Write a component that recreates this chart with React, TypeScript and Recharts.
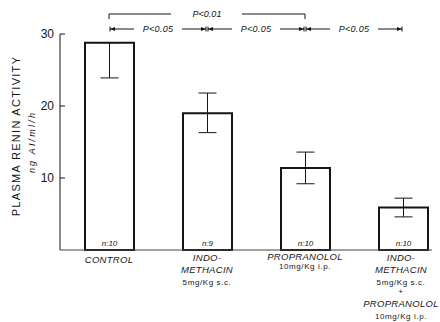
import { BarChart, Bar, XAxis, YAxis, ErrorBar, LabelList } from "recharts";

const categories = ["CONTROL", "INDOMETHACIN", "PROPRANOLOL", "INDOMETHACIN + PROPRANOLOL"];
const renin = [28.8, 19.0, 11.4, 5.9];
const errLow = [4.9, 2.7, 2.2, 1.3];
const errHigh = [0, 2.8, 2.2, 1.3];
const nCounts = [10, 9, 10, 10];
const yTicks = [10, 20, 30];

// x axis label text, line by line
const categoryLines = [
  ["CONTROL"],
  ["INDO-", "METHACIN", "5mg/Kg  s.c."],
  ["PROPRANOLOL", "10mg/Kg  i.p."],
  ["INDO-", "METHACIN", "5mg/Kg  s.c.", "+", "PROPRANOLOL", "10mg/Kg  i.p."],
];

// significance annotations
const sigPairs = [[0, 1], [1, 2], [2, 3]];
const sigLabels = ["P<0.05", "P<0.05", "P<0.05"];
const bracketPair = [0, 2];
const bracketLabel = "P<0.01";

const data = categories.map((name, i) => ({
  name,
  value: renin[i],
  err: [errLow[i], errHigh[i]],
  n: nCounts[i],
}));

const FONT = "'Liberation Sans', Arial, sans-serif";
const INK = "#151515";
const PLOT_LEFT = 60;
const PLOT_BOTTOM = 250;
const BAND = 98;
const lineOffsets = [[9], [7, 19, 32], [6, 16], [7, 19, 32, 41, 53, 66]];
const labelShift = [0, 0, 0, -2];

const center = (i: number) => PLOT_LEFT + BAND * (i + 0.5);

const CategoryTick = (props: any) => {
  const { x, payload } = props;
  const idx = payload?.index ?? categories.indexOf(payload?.value);
  const lines = categoryLines[idx] || [];
  const dys = lineOffsets[idx] || [];
  return (
    <g>
      {lines.map((t, i) => {
        const small = t.includes("mg") || t === "+";
        return (
          <text
            key={i}
            x={x + (labelShift[idx] || 0)}
            y={PLOT_BOTTOM + dys[i]}
            textAnchor="middle"
            dominantBaseline="central"
            fontFamily={FONT}
            fontSize={small ? 8 : 9.5}
            fontStyle={small ? "normal" : "italic"}
            letterSpacing={small ? 0.6 : 0.3}
            fill={INK}
          >
            {t}
          </text>
        );
      })}
    </g>
  );
};

const ValueTick = (props: any) => {
  const { y, payload } = props;
  return (
    <g>
      <line x1={PLOT_LEFT} x2={PLOT_LEFT + 5} y1={y} y2={y} stroke={INK} strokeWidth={1} />
      <text
        x={PLOT_LEFT - 6}
        y={y}
        textAnchor="end"
        dominantBaseline="central"
        fontFamily={FONT}
        fontSize={12}
        fill={INK}
      >
        {payload.value}
      </text>
    </g>
  );
};

const Arrow = ({ x, y, dir }: { x: number; y: number; dir: number }) => (
  <g>
    <line x1={x} x2={x} y1={y - 2.5} y2={y + 2.5} stroke={INK} strokeWidth={1} />
    <polygon points={`${x},${y} ${x + dir * 5},${y - 2} ${x + dir * 5},${y + 2}`} fill={INK} />
  </g>
);

const Annotations = () => {
  const by = 14;
  const bx1 = center(bracketPair[0]);
  const bx2 = center(bracketPair[1]);
  const bmid = (bx1 + bx2) / 2;
  const ry = 29;
  return (
    <svg
      width={440}
      height={322}
      style={{ position: "absolute", left: 0, top: 0, pointerEvents: "none" }}
    >
      {/* baseline */}
      <line x1={PLOT_LEFT} x2={432} y1={PLOT_BOTTOM} y2={PLOT_BOTTOM} stroke="#444" strokeWidth={1} />

      <text
        transform="translate(16,136) rotate(-90)"
        textAnchor="middle"
        dominantBaseline="central"
        fontFamily={FONT}
        fontSize={11}
        letterSpacing={1.3}
        fill={INK}
      >
        PLASMA RENIN ACTIVITY
      </text>
      <text
        transform="translate(32,142) rotate(-90)"
        textAnchor="middle"
        dominantBaseline="central"
        fontFamily={FONT}
        fontSize={9}
        fontStyle="italic"
        letterSpacing={2.2}
        fill={INK}
      >
        ng AI/ml/h
      </text>

      <polyline
        points={`${bx1},${by + 5} ${bx1},${by} ${bmid - 36},${by}`}
        fill="none"
        stroke={INK}
        strokeWidth={1}
      />
      <polyline
        points={`${bmid + 35},${by} ${bx2},${by} ${bx2},${by + 5}`}
        fill="none"
        stroke={INK}
        strokeWidth={1}
      />
      <text
        x={bmid}
        y={by}
        textAnchor="middle"
        dominantBaseline="central"
        fontFamily={FONT}
        fontSize={9}
        fontStyle="italic"
        fill={INK}
      >
        {bracketLabel}
      </text>

      {sigPairs.map(([a, b], i) => {
        const x1 = center(a) + 1;
        const x2 = center(b) - 1;
        const mid = (x1 + x2) / 2;
        return (
          <g key={i}>
            <Arrow x={x1} y={ry} dir={1} />
            <Arrow x={x2} y={ry} dir={-1} />
            <line x1={x1} x2={mid - 24} y1={ry} y2={ry} stroke={INK} strokeWidth={1} />
            <line x1={mid + 24} x2={x2} y1={ry} y2={ry} stroke={INK} strokeWidth={1} />
            <text
              x={mid}
              y={ry}
              textAnchor="middle"
              dominantBaseline="central"
              fontFamily={FONT}
              fontSize={9}
              fontStyle="italic"
              letterSpacing={0.3}
              fill={INK}
            >
              {sigLabels[i]}
            </text>
          </g>
        );
      })}
    </svg>
  );
};

export default function App() {
  return (
    <div
      style={{
        position: "absolute",
        left: 0,
        top: 0,
        width: 440,
        height: 322,
        overflow: "hidden",
        background: "#fff",
      }}
    >
      <BarChart
        width={460}
        height={322}
        data={data}
        margin={{ top: 34, right: 8, left: 0, bottom: 0 }}
        barCategoryGap={0}
      >
        <XAxis
          dataKey="name"
          height={72}
          interval={0}
          tickLine={false}
          axisLine={false}
          tick={<CategoryTick />}
        />
        <YAxis
          width={60}
          domain={[0, 30]}
          ticks={yTicks}
          tickLine={false}
          axisLine={{ stroke: INK, strokeWidth: 1 }}
          tick={<ValueTick />}
        />
        <Bar
          dataKey="value"
          barSize={49}
          fill="#fff"
          stroke={INK}
          strokeWidth={2}
          isAnimationActive={false}
        >
          <ErrorBar dataKey="err" width={9} stroke={INK} strokeWidth={1} />
          <LabelList
            dataKey="n"
            content={(p: any) => (
              <text
                x={p.x + p.width / 2}
                y={PLOT_BOTTOM - 7}
                textAnchor="middle"
                dominantBaseline="central"
                fontFamily={FONT}
                fontSize={8}
                fontStyle="italic"
                fill={INK}
              >
                {`n:${p.value}`}
              </text>
            )}
          />
        </Bar>
      </BarChart>
      <Annotations />
    </div>
  );
}
